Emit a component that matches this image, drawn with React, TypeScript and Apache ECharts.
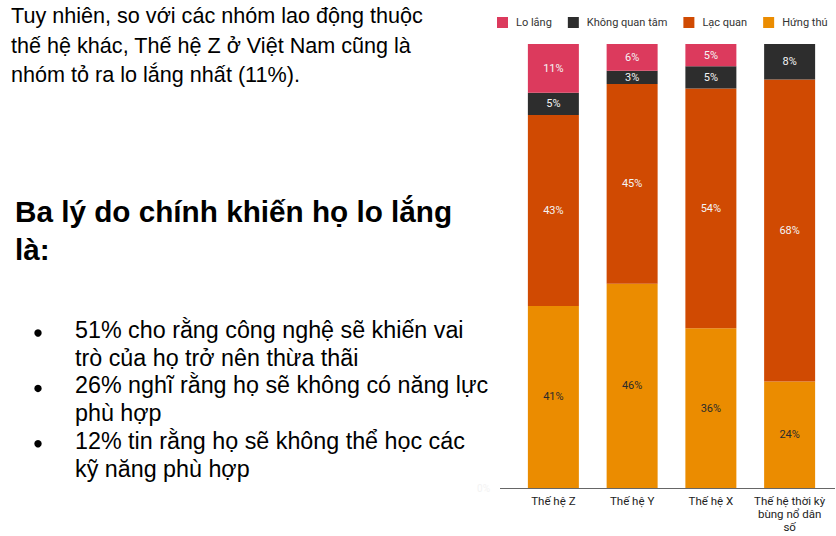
import React, { useEffect, useRef } from "react";
import * as echarts from "echarts";

// Chart data
const categories = ["Thế hệ Z", "Thế hệ Y", "Thế hệ X", "Thế hệ thời kỳ\nbùng nổ dân\nsố"];
const loLang = [11, 6, 5, 0];
const khongQuanTam = [5, 3, 5, 8];
const lacQuan = [43, 45, 54, 68];
const hungThu = [41, 46, 36, 24];
const legendOrder = ["Lo lắng", "Không quan tâm", "Lạc quan", "Hứng thú"];

// Side text
const introLines = [
  "Tuy nhiên, so với các nhóm lao động thuộc",
  "thế hệ khác, Thế hệ Z ở Việt Nam cũng là",
  "nhóm tỏ ra lo lắng nhất (11%).",
];
const headingLines = ["Ba lý do chính khiến họ lo lắng", "là:"];
const bullets = [
  ["51% cho rằng công nghệ sẽ khiến vai", "trò của họ trở nên thừa thãi"],
  ["26% nghĩ rằng họ sẽ không có năng lực", "phù hợp"],
  ["12% tin rằng họ sẽ không thể học các", "kỹ năng phù hợp"],
];

const COLORS = {
  loLang: "#DC3A5D",
  khong: "#2D2D2D",
  lac: "#D04A02",
  hung: "#EB8C00",
};

const GRID = { left: 514, top: 44, width: 315, height: 444 };
const SANS = "'Liberation Sans', Arial, sans-serif";
const CHART_FONT = "Roboto, 'Liberation Sans', Arial, sans-serif";

const pct = (p: any) => (p.value > 0 ? `${p.value}%` : "");

const App: React.FC = () => {
  const chartRef = useRef<HTMLDivElement>(null);

  useEffect(() => {
    if (!chartRef.current) return;
    const chart = echarts.init(chartRef.current, undefined, { renderer: "svg" });

    const texts: any[] = [];
    introLines.forEach((t, i) => {
      texts.push({
        type: "text",
        x: 11,
        y: 15.5 + i * 29.7,
        style: { text: t, fontSize: 21.6, fontFamily: SANS, fill: "#000", verticalAlign: "middle" },
      });
    });
    headingLines.forEach((t, i) => {
      texts.push({
        type: "text",
        x: 15,
        y: 211.5 + i * 38,
        style: {
          text: t,
          fontSize: 29.7,
          fontWeight: "bold",
          fontFamily: SANS,
          fill: "#000",
          verticalAlign: "middle",
        },
      });
    });
    let line = 0;
    bullets.forEach((b) => {
      texts.push({
        type: "circle",
        shape: { cx: 38, cy: 333 + line * 27.7, r: 3.7 },
        style: { fill: "#000" },
      });
      b.forEach((t) => {
        texts.push({
          type: "text",
          x: 75,
          y: 330 + line * 27.7,
          style: { text: t, fontSize: 23.3, fontFamily: SANS, fill: "#000", verticalAlign: "middle" },
        });
        line++;
      });
    });
    // baseline of the bar area
    const baseY = GRID.top + GRID.height;
    texts.push({
      type: "line",
      shape: { x1: 500, y1: baseY + 0.5, x2: 835, y2: baseY + 0.5 },
      style: { stroke: "#666", lineWidth: 1 },
      z: 10,
    });

    const barLabel = (color: string) => ({
      show: true,
      position: "inside" as const,
      formatter: pct,
      color,
      fontSize: 11,
      fontFamily: CHART_FONT,
    });

    const option: echarts.EChartsOption = {
      animation: false,
      backgroundColor: "#fff",
      textStyle: { fontFamily: CHART_FONT },
      legend: {
        data: legendOrder,
        left: 492,
        top: 12,
        width: 344,
        icon: "rect",
        itemWidth: 11,
        itemHeight: 11,
        itemGap: 16,
        textStyle: { fontSize: 11, color: "#333", fontFamily: CHART_FONT, padding: [0, 0, 0, 3] },
      },
      grid: { ...GRID },
      xAxis: {
        type: "category",
        data: categories,
        axisLine: { show: false },
        axisTick: { show: false },
        axisLabel: {
          color: "#222",
          fontSize: 11.5,
          lineHeight: 13,
          margin: 6,
          interval: 0,
          fontFamily: CHART_FONT,
        },
      },
      yAxis: {
        type: "value",
        min: 0,
        max: 100,
        interval: 25,
        splitLine: { show: false },
        axisLine: { show: false },
        axisTick: { show: false },
        axisLabel: {
          margin: 24,
          fontSize: 10,
          color: "#f3f3f3",
          formatter: (v: number) => (v === 0 ? "0%" : ""),
        },
      },
      series: [
        {
          name: "Hứng thú",
          type: "bar",
          stack: "total",
          barWidth: 51,
          data: hungThu,
          itemStyle: { color: COLORS.hung },
          label: barLabel("#2b2b2b"),
        },
        {
          name: "Lạc quan",
          type: "bar",
          stack: "total",
          barWidth: 51,
          data: lacQuan,
          itemStyle: { color: COLORS.lac },
          label: barLabel("#f4f4f4"),
        },
        {
          name: "Không quan tâm",
          type: "bar",
          stack: "total",
          barWidth: 51,
          data: khongQuanTam,
          itemStyle: { color: COLORS.khong },
          label: barLabel("#f4f4f4"),
        },
        {
          name: "Lo lắng",
          type: "bar",
          stack: "total",
          barWidth: 51,
          data: loLang,
          itemStyle: { color: COLORS.loLang },
          label: barLabel("#f4f4f4"),
        },
      ],
      graphic: texts,
    };

    chart.setOption(option);
    return () => chart.dispose();
  }, []);

  return (
    <div
      ref={chartRef}
      style={{ position: "fixed", left: 0, top: 0, width: "836px", height: "536px" }}
    />
  );
};

export default App;
